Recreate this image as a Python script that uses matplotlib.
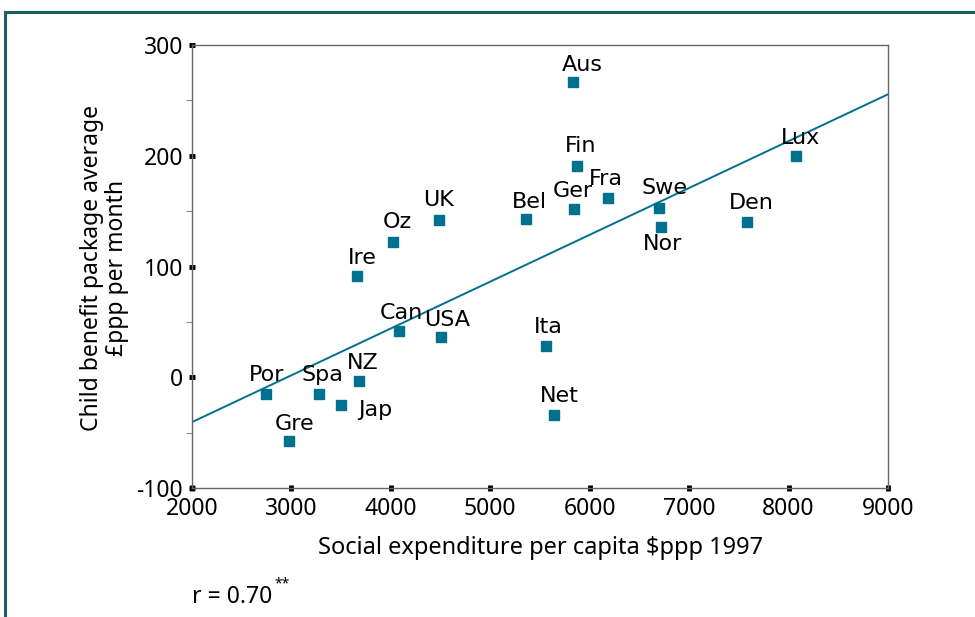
import numpy as np
import matplotlib.pyplot as plt
from matplotlib.lines import Line2D
from matplotlib.ticker import MultipleLocator

# data
countries = ["Aus", "Fin", "Fra", "Ger", "Bel", "Swe", "Nor", "Den", "Lux", "UK", "Oz",
             "Ire", "Can", "USA", "Ita", "Por", "Spa", "NZ", "Jap", "Gre", "Net"]
social_exp = [5830, 5870, 6180, 5840, 5360, 6700, 6720, 7580, 8075, 4485, 4020,
              3660, 4080, 4500, 5560, 2745, 3275, 3680, 3500, 2975, 5640]
child_benefit = [267, 191, 162, 152, 143, 153, 136, 140, 200, 142, 122,
                 91, 42, 36, 28, -15, -15, -3, -25, -58, -34]
fit_x = [2000, 9000]
fit_y = [-40.5, 255.5]

# label offsets (pixels: right, down) relative to the point
label_offsets = {
    "Aus": (10, -17), "Fin": (4, -20), "Fra": (-2, -19), "Ger": (-1, -18),
    "Bel": (3, -17), "Swe": (5, -20), "Nor": (1, 17), "Den": (5, -19),
    "Lux": (4, -18), "UK": (-1, -20), "Oz": (5, -20), "Ire": (5, -18),
    "Can": (3, -18), "USA": (7, -17), "Ita": (2, -19), "Por": (1, -19),
    "Spa": (4, -19), "NZ": (4, -18), "Jap": (34, 5), "Gre": (6, -17),
    "Net": (5, -19),
}

W, H = 975, 617
teal = "#00708f"
font = ["Noto Sans", "DejaVu Sans"]
fs = 16.5
plt.rcParams["axes.unicode_minus"] = False

fig = plt.figure(figsize=(W / 100, H / 100), dpi=100)
ax = fig.add_axes([192 / W, 1 - 488 / H, (888 - 192) / W, (488 - 45) / H])

ax.plot(fit_x, fit_y, color=teal, lw=1.4, zorder=2)
ax.plot(social_exp, child_benefit, ls="none", marker="s", ms=7.5,
        color=teal, mec=teal, zorder=3)

for name, x, y in zip(countries, social_exp, child_benefit):
    dx, dy = label_offsets[name]
    ax.annotate(name, (x, y), xytext=(dx * 0.72, -dy * 0.72), textcoords="offset points",
                ha="center", va="center", fontsize=16, family="DejaVu Sans", zorder=4)

ax.set_xlim(2000, 9000)
ax.set_ylim(-100, 300)
ax.xaxis.set_major_locator(MultipleLocator(1000))
ax.yaxis.set_major_locator(MultipleLocator(100))
ax.yaxis.set_minor_locator(MultipleLocator(50))

for s in ax.spines.values():
    s.set_color("#666666")
    s.set_linewidth(1.0)

ax.tick_params(which="major", direction="inout", length=5, width=3.5, color="black",
               labelsize=fs, pad=4)
ax.tick_params(axis="y", which="minor", direction="out", length=4, width=0.8, color="#888888")
for lab in ax.get_xticklabels() + ax.get_yticklabels():
    lab.set_family(font)

fig.text(541 / W, 1 - 548 / H, "Social expenditure per capita $ppp 1997",
         ha="center", va="center", fontsize=17, family=font)
fig.text(104.5 / W, 1 - 268 / H, "Child benefit package average\n£ppp per month",
         ha="center", va="center", rotation=90, fontsize=fs, family=font,
         multialignment="center", linespacing=1.05)

fig.text(192 / W, 1 - 597 / H, "r = 0.70", ha="left", va="center",
         fontsize=fs, family=font)
fig.text(274 / W, 1 - 584 / H, "**", ha="left", va="center",
         fontsize=10, family=font)

# outer frame
fig.add_artist(Line2D([5 / W, 5 / W], [0, 1 - 12 / H], color="#1b5f66", lw=2.2))
fig.add_artist(Line2D([5 / W, 1], [1 - 12 / H, 1 - 12 / H], color="#1b5f66", lw=2.2))

fig.savefig("out.png", dpi=100)
